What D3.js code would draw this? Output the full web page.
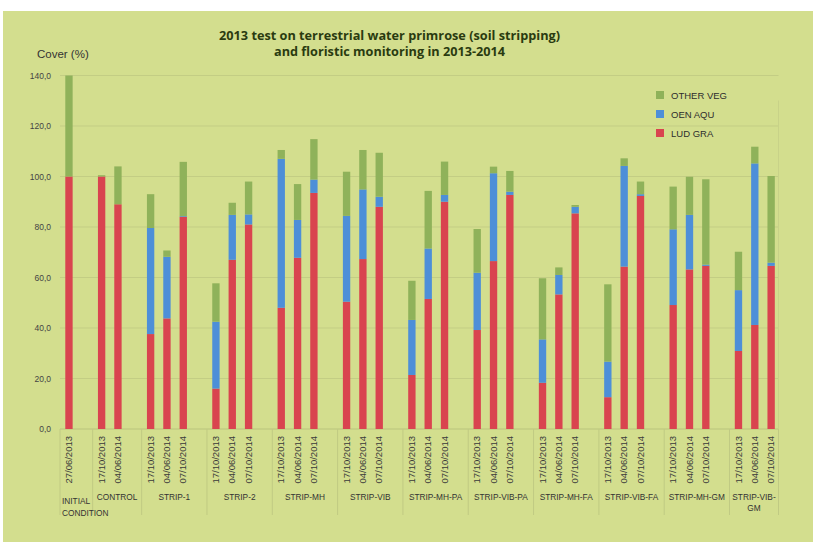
<!DOCTYPE html>
<html lang="en">
<head>
    <meta charset="UTF-8">
    <title>2013 test on terrestrial water primrose</title>
    <script src="https://d3js.org/d3.v7.min.js"></script>
    <style>
        body{
            margin:0;
            background-color: white;
        }
        svg{
            display:block;
            font-family: "Liberation Sans", Arial, sans-serif;
        }
    </style>
</head>
<body>
    <script>
        const groups = ["INITIAL CONDITION","CONTROL","STRIP-1","STRIP-2","STRIP-MH","STRIP-VIB",
            "STRIP-MH-PA","STRIP-VIB-PA","STRIP-MH-FA","STRIP-VIB-FA","STRIP-MH-GM","STRIP-VIB-GM"];
        const groupDates = [
            ["27/06/2013"],
            ["17/10/2013","04/06/2014"],
            ["17/10/2013","04/06/2014","07/10/2014"],
            ["17/10/2013","04/06/2014","07/10/2014"],
            ["17/10/2013","04/06/2014","07/10/2014"],
            ["17/10/2013","04/06/2014","07/10/2014"],
            ["17/10/2013","04/06/2014","07/10/2014"],
            ["17/10/2013","04/06/2014","07/10/2014"],
            ["17/10/2013","04/06/2014","07/10/2014"],
            ["17/10/2013","04/06/2014","07/10/2014"],
            ["17/10/2013","04/06/2014","07/10/2014"],
            ["17/10/2013","04/06/2014","07/10/2014"]
        ];
        const seriesNames = ["LUD GRA","OEN AQU","OTHER VEG"];
        const ludGra = [100,100,89, 37.6,43.8,84, 16,67,81, 48,67.8,93.5, 50.4,67.3,88, 21.4,51.5,90,
            39.2,66.5,92.7, 18.3,53.3,85.4, 12.6,64.3,92.3, 49.1,63.2,64.6, 30.9,41.2,64.6];
        const oenAqu = [0,0,0, 42,24.4,0.3, 26.5,17.8,4, 59,15,5.3, 34,27.6,4, 21.8,20,2.7,
            22.7,34.8,1.3, 17.2,7.7,2.6, 14.1,39.9,0.7, 30,21.6,0.5, 24.1,64,1.3];
        const otherVeg = [40,0.5,15, 13.4,2.5,21.5, 15.2,4.8,13, 3.5,14.2,16, 17.5,15.6,17.4, 15.5,22.8,13.2,
            17.3,2.6,8.2, 24.2,3,0.7, 30.6,3,5, 16.9,15.1,33.8, 15.2,6.6,34.3];
        const yTicks = [0,20,40,60,80,100,120,140];

        const colors = {"LUD GRA":"#d9444f","OEN AQU":"#4d8fd8","OTHER VEG":"#8fb25a"};

        const w = 816, h = 545;
        const plot = {left:60, right:778.5, top:75.5, bottom:429};

        const svg = d3.select("body").append("svg").attr("width",w).attr("height",h);
        svg.append("rect").attr("x",3).attr("y",11).attr("width",810).attr("height",531).attr("fill","#d3de8e");

        // slots: every bar plus one empty slot after each group (not after the last)
        const slots = [];
        const bars = [];
        groups.forEach(function(g,gi){
            groupDates[gi].forEach(function(d){
                const k = g+"|"+d;
                slots.push(k);
                bars.push({key:k, group:g, date:d});
            });
            if(gi < groups.length-1) slots.push(g+"|gap");
        });
        bars.forEach(function(b,i){
            b["LUD GRA"] = ludGra[i];
            b["OEN AQU"] = oenAqu[i];
            b["OTHER VEG"] = otherVeg[i];
        });

        const x = d3.scaleBand().domain(slots).range([plot.left,plot.right]);
        const y = d3.scaleLinear().domain([0,140]).range([plot.bottom,plot.top]);

        // gridlines
        svg.append("g").selectAll("line").data(yTicks).enter().append("line")
            .attr("x1",plot.left).attr("x2",plot.right)
            .attr("y1",d=>y(d)).attr("y2",d=>y(d))
            .attr("stroke",d=>d===0?"#b9c47c":"#c3cd84").attr("stroke-width",1);

        const yaxis = d3.axisLeft(y).tickValues(yTicks).tickSize(0).tickPadding(5)
            .tickFormat(d=>d.toFixed(1).replace(".",","));
        const ga = svg.append("g").attr("transform","translate(56,0)").call(yaxis);
        ga.select(".domain").remove();
        ga.selectAll("text").attr("font-size","8.5px").attr("fill","#444").attr("font-family","Liberation Sans, Arial");

        // stacked bars
        const stack = d3.stack().keys(seriesNames)(bars);
        const bw = x.bandwidth()*0.45;
        svg.append("g").selectAll("g").data(stack).enter().append("g")
            .attr("fill",d=>colors[d.key])
            .selectAll("rect").data(d=>d).enter().append("rect")
            .attr("x",d=>x(d.data.key)+(x.bandwidth()-bw)/2+0.8)
            .attr("width",bw)
            .attr("y",d=>y(d[1]))
            .attr("height",d=>y(d[0])-y(d[1]));

        // group separators
        const sepX = groups.map(g=>x(g+"|"+groupDates[groups.indexOf(g)][0]));
        sepX.push(plot.right);
        svg.append("g").selectAll("line").data(sepX).enter().append("line")
            .attr("x1",d=>d).attr("x2",d=>d).attr("y1",plot.bottom).attr("y2",515)
            .attr("stroke","#c0ca83").attr("stroke-width",1);
        svg.append("line").attr("x1",plot.right).attr("x2",plot.right)
            .attr("y1",plot.top+25).attr("y2",plot.bottom).attr("stroke","#c8d288");

        // date labels
        svg.append("g").selectAll("text").data(bars).enter().append("text")
            .attr("transform",d=>"translate("+(x(d.key)+x.bandwidth()/2+4)+",436) rotate(-90)")
            .attr("text-anchor","end").attr("font-size","9.5px").attr("fill","#3a3a3a")
            .text(d=>d.date);

        // group labels
        const gl = svg.append("g").attr("font-size","8.3px").attr("fill","#333");
        groups.forEach(function(g,gi){
            const x0 = sepX[gi], x1 = sepX[gi+1];
            const cx = (x0+x1)/2;
            if(g==="INITIAL CONDITION"){
                gl.append("text").attr("x",x0+2).attr("y",504).text("INITIAL");
                gl.append("text").attr("x",x0+2).attr("y",516).text("CONDITION");
            } else if(g==="STRIP-VIB-GM"){
                gl.append("text").attr("x",cx).attr("y",500).attr("text-anchor","middle").text("STRIP-VIB-");
                gl.append("text").attr("x",cx).attr("y",511).attr("text-anchor","middle").text("GM");
            } else {
                gl.append("text").attr("x",cx).attr("y",500).attr("text-anchor","middle").text(g);
            }
        });

        // legend
        const legend = svg.append("g");
        ["OTHER VEG","OEN AQU","LUD GRA"].forEach(function(k,i){
            const ly = 95 + i*19;
            legend.append("rect").attr("x",656).attr("y",ly-4).attr("width",8).attr("height",8).attr("fill",colors[k]);
            legend.append("text").attr("x",671).attr("y",ly+3.5).attr("font-size","9.5px").attr("fill","#2d2d2d").text(k);
        });

        // title and axis label
        svg.append("text").attr("x",37).attr("y",58).attr("font-size","11.5px").attr("fill","#333").text("Cover (%)");
        const title = svg.append("g").attr("font-family","'Open Sans', sans-serif").attr("font-weight","bold")
            .attr("font-size","12.5px").attr("fill","#2a3b10").attr("text-anchor","middle");
        title.append("text").attr("x",389.5).attr("y",40).attr("textLength",341).attr("lengthAdjust","spacingAndGlyphs")
            .text("2013 test on terrestrial water primrose (soil stripping)");
        title.append("text").attr("x",389.5).attr("y",56).attr("textLength",231).attr("lengthAdjust","spacingAndGlyphs")
            .text("and floristic monitoring in 2013-2014");
    </script>
</body>
</html>
